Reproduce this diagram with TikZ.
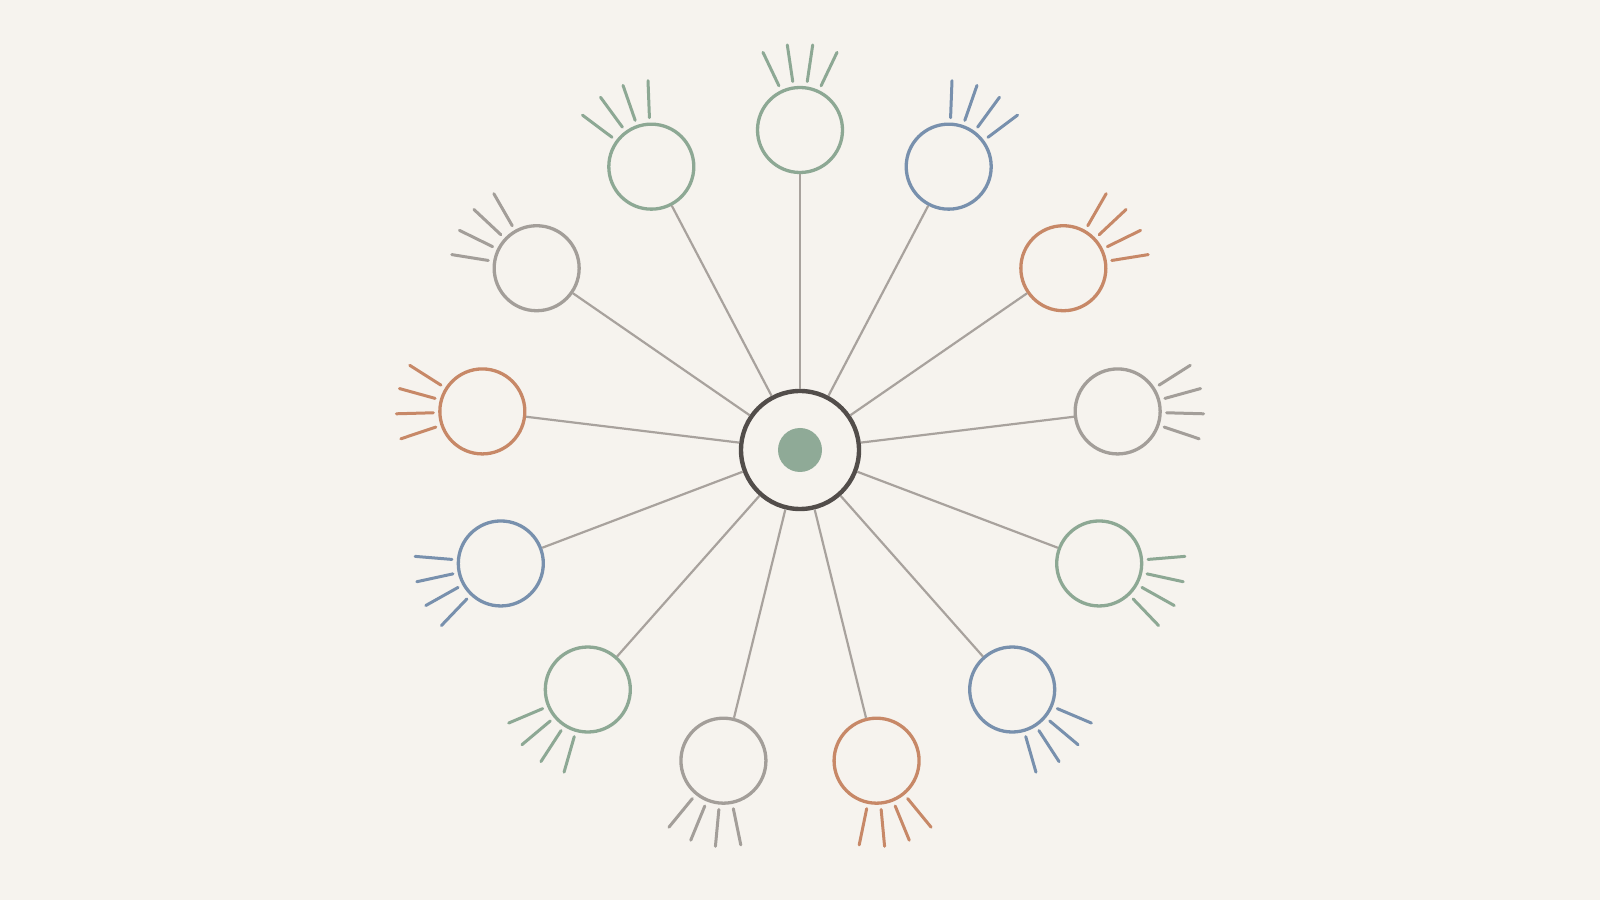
\documentclass[tikz,border=0pt]{standalone}
\usetikzlibrary{calc}
\definecolor{bgc}{HTML}{F6F3EE}
\definecolor{cgreen}{HTML}{8DA894}
\definecolor{cblue}{HTML}{7890AD}
\definecolor{corange}{HTML}{C78867}
\definecolor{cgray}{HTML}{A39E99}
\definecolor{chub}{HTML}{524D4A}
\definecolor{cconn}{HTML}{A8A29D}
\definecolor{cdot}{HTML}{8FAA97}
\tikzset{
  hubnode/.style={circle, draw=chub, line width=4.4pt, minimum size=118pt, inner sep=0pt, fill=bgc},
  leaf/.style={circle, draw=#1, line width=3.3pt, minimum size=85pt, inner sep=0pt, fill=bgc},
  conn/.style={draw=cconn, line width=2.2pt},
  ray/.style={draw=#1, line width=3pt, line cap=round},
  dotnode/.style={circle, fill=cdot, minimum size=44pt, inner sep=0pt}
}
\begin{document}
\begin{tikzpicture}[x=1pt,y=1pt]
\fill[bgc] (0,0) rectangle (1600,900);
\useasboundingbox (0,0) rectangle (1600,900);
\coordinate (c) at (800,450);
\foreach \i in {0,...,12}{
  \pgfmathsetmacro{\ang}{90-\i*360/13}
  \coordinate (p\i) at ($(c)+(\ang:320)$);
}
\node[hubnode] (hub) at (c) {};
\node[dotnode] (dot) at (c) {};
\foreach \i/\col in {0/cgreen,1/cblue,2/corange,3/cgray,4/cgreen,5/cblue,6/corange,7/cgray,8/cgreen,9/cblue,10/corange,11/cgray,12/cgreen}{
  \pgfmathsetmacro{\ang}{90-\i*360/13}
  \node[leaf=\col] (n\i) at (p\i) {};
  \draw[conn] (hub) -- (n\i);
  \foreach \o in {-25.5,-8.5,8.5,25.5}{
    \pgfmathsetmacro{\ra}{\ang+\o}
    \draw[ray=\col] ($(n\i.center)+(\ra:49)$) -- ($(n\i.center)+(\ra:86)$);
  }
}
\end{tikzpicture}
\end{document}
